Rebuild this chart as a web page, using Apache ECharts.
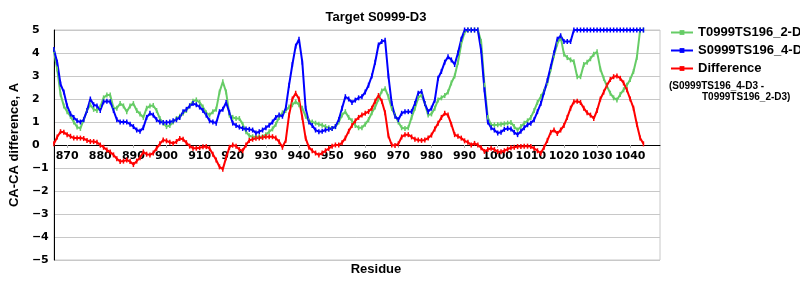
<!DOCTYPE html>
<html>
<head>
<meta charset="utf-8">
<script src="https://cdn.jsdelivr.net/npm/echarts@6/dist/echarts.min.js"></script>
<style>html,body{margin:0;padding:0;background:#fff}#c{width:800px;height:300px}</style>
</head>
<body>
<div id="c"></div>
<script>
// Residue axis: 866 .. 1049 (data spans 866 .. 1044)
const firstResidue = 866;
const lastResidue = 1049;
const residues = [];
for (let r = firstResidue; r <= lastResidue; r++) residues.push(String(r));

const yTicks = [-5, -4, -3, -2, -1, 0, 1, 2, 3, 4, 5];

// T0999TS196_2-D3 (green), residues 866..1044
const seriesT = [
  4.1,3.3,2.2,1.7,1.45,1.25,1.0,0.78,0.72,1.1,
  1.5,1.75,1.55,1.5,1.65,2.05,2.17,2.17,1.6,1.6,
  1.8,1.7,1.45,1.7,1.8,1.5,1.35,1.2,1.6,1.7,
  1.72,1.5,1.15,0.95,0.8,0.85,1.0,1.15,1.25,1.38,
  1.5,1.7,1.9,1.96,1.85,1.65,1.4,1.3,1.45,1.55,
  2.3,2.75,2.3,1.3,1.2,1.15,1.15,0.9,0.58,0.4,
  0.36,0.36,0.36,0.36,0.45,0.58,0.7,0.9,1.2,1.4,
  1.5,1.65,1.75,1.88,1.75,1.6,1.25,1.05,1.0,0.95,
  0.9,0.86,0.8,0.75,0.72,0.8,1.0,1.3,1.45,1.2,
  1.05,0.85,0.75,0.75,0.9,1.1,1.4,1.65,2.0,2.35,
  2.45,2.1,1.6,1.3,1.0,0.75,0.72,0.75,1.2,1.6,
  2.05,2.17,1.8,1.3,1.35,1.6,1.96,2.05,2.15,2.3,
  2.7,3.0,3.6,4.4,4.9,5,5,5,5,4.5,
  2.6,1.2,0.87,0.87,0.88,0.9,0.92,0.95,0.98,0.8,
  0.65,0.8,0.95,1.05,1.2,1.5,1.85,2.1,2.35,2.7,
  3.3,3.9,4.4,4.7,3.95,3.8,3.7,3.62,2.97,2.97,
  3.5,3.6,3.75,3.95,4.05,3.3,2.9,2.55,2.25,2.05,
  1.96,2.2,2.4,2.6,2.85,3.2,3.8,5,5
];

// S0999TS196_4-D3 (blue)
const seriesS = [
  4.15,3.6,2.65,2.3,1.7,1.35,1.2,1.05,1.0,1.1,
  1.5,2.0,1.75,1.7,1.5,1.88,1.9,1.88,1.5,1.1,
  1.0,1.0,1.0,0.9,0.8,0.65,0.6,0.75,1.2,1.38,
  1.3,1.1,1.0,0.98,0.98,1.0,1.05,1.1,1.2,1.45,
  1.55,1.7,1.8,1.75,1.65,1.5,1.3,1.05,1.0,0.95,
  1.45,1.55,1.85,1.4,0.95,0.85,0.78,0.72,0.7,0.68,
  0.65,0.52,0.58,0.65,0.75,0.86,1.0,1.2,1.3,1.25,
  1.6,2.6,3.5,4.3,4.6,3.6,1.6,1.0,0.85,0.65,
  0.58,0.6,0.65,0.68,0.72,0.8,1.1,1.6,2.1,2.0,
  1.85,1.95,2.05,2.1,2.3,2.6,3.0,3.6,4.35,4.5,
  4.55,3.0,1.8,1.25,1.1,1.38,1.45,1.45,1.45,1.8,
  2.25,2.32,1.8,1.45,1.6,1.95,2.9,3.2,3.6,3.84,
  3.7,3.5,4.0,4.6,5,5,5,5,5,4.1,
  2.4,1.0,0.75,0.65,0.52,0.55,0.68,0.72,0.7,0.55,
  0.45,0.6,0.75,0.88,0.95,1.1,1.45,1.8,2.3,2.8,
  3.4,4.0,4.6,4.75,4.5,4.5,4.5,5,5,5,
  5,5,5,5,5,5,5,5,5,5,
  5,5,5,5,5,5,5,5,5
];

// Difference (red)
const seriesDiff = [
  0.05,0.35,0.58,0.55,0.45,0.38,0.3,0.3,0.3,0.28,
  0.2,0.15,0.15,0.12,0.0,-0.1,-0.22,-0.3,-0.43,-0.6,
  -0.72,-0.7,-0.65,-0.72,-0.85,-0.7,-0.55,-0.3,-0.4,-0.43,
  -0.35,-0.15,0.05,0.22,0.18,0.12,0.07,0.15,0.28,0.25,
  0.1,-0.05,-0.14,-0.14,-0.12,-0.08,-0.07,-0.15,-0.4,-0.65,
  -0.95,-1.05,-0.55,-0.1,0.0,-0.05,-0.2,-0.25,0.0,0.2,
  0.25,0.29,0.3,0.33,0.36,0.36,0.36,0.3,0.14,-0.1,
  0.2,1.3,2.0,2.25,2.0,1.2,0.3,-0.1,-0.25,-0.35,
  -0.43,-0.35,-0.25,-0.15,-0.05,0.0,0.0,0.1,0.3,0.6,
  0.85,1.05,1.2,1.3,1.38,1.45,1.6,1.9,2.15,1.9,
  1.4,0.4,0.0,-0.02,0.05,0.35,0.45,0.45,0.35,0.25,
  0.22,0.2,0.22,0.3,0.43,0.7,0.95,1.2,1.38,1.3,
  0.9,0.45,0.38,0.3,0.18,0.12,0.0,0.07,0.0,-0.12,
  -0.28,-0.2,-0.14,-0.2,-0.29,-0.29,-0.25,-0.18,-0.12,-0.1,
  -0.07,-0.07,-0.05,-0.05,-0.07,-0.15,-0.25,-0.36,-0.1,0.2,
  0.55,0.65,0.5,0.65,0.85,1.2,1.6,1.88,1.9,1.85,
  1.6,1.4,1.3,1.15,1.5,2.0,2.3,2.6,2.85,2.97,
  3.0,2.9,2.7,2.4,2.0,1.6,0.9,0.3,0.05
];

const seriesNames = ['T0999TS196_2-D3', 'S0999TS196_4-D3', 'Difference'];
const titleText = 'Target S0999-D3';
const xName = 'Residue';
const yName = 'CA-CA difference, A';
const diffNote = ['(S0999TS196_4-D3 -', 'T0999TS196_2-D3)'];

const colors = ['#66cc66', '#0000ff', '#ff0000'];
const nameFont = 'Liberation Sans, Arial, sans-serif';
const tickFont = 'DejaVu Sans, Verdana, sans-serif';

// grid geometry
const gridTop = 30, gridHeight = 230;
const yMin = yTicks[0], yMax = yTicks[yTicks.length - 1];
// move the category axis up to value 0
const zeroOffset = -gridHeight * (0 - yMin) / (yMax - yMin);

function mkSeries(name, data, color) {
  return {
    name: name, type: 'line', data: data,
    symbol: 'rect', symbolSize: [1.5, 5], showSymbol: true, showAllSymbol: true,
    lineStyle: { color: color, width: 2 },
    itemStyle: { color: color },
    emphasis: { disabled: true },
    animation: false
  };
}

const chart = echarts.init(document.getElementById('c'), null, { renderer: 'canvas' });
chart.setOption({
  backgroundColor: '#ffffff',
  animation: false,
  title: {
    text: titleText, left: 371, top: 6, textAlign: 'center',
    textStyle: { fontFamily: nameFont, fontWeight: 'bold', fontSize: 13, color: '#000' }
  },
  grid: { left: 50, top: gridTop, width: 610, height: gridHeight, show: true, borderColor: '#c8c8c8', borderWidth: 1 },
  legend: {
    orient: 'vertical', left: 670, top: 26, padding: 0, itemWidth: 22, itemHeight: 6, itemGap: 5,
    data: seriesNames,
    textStyle: { fontFamily: nameFont, fontWeight: 'bold', fontSize: 13, color: '#000' }
  },
  xAxis: {
    type: 'category', data: residues, boundaryGap: false,
    position: 'bottom', offset: zeroOffset,
    axisLine: { onZero: false, lineStyle: { color: '#000', width: 1 } },
    axisTick: { show: true, length: 3, lineStyle: { color: '#b0b0b0' }, interval: (i, v) => Number(v) % 10 === 0 },
    axisLabel: {
      interval: (i, v) => Number(v) % 10 === 0 && Number(v) < 1050, margin: 6,
      fontFamily: tickFont, fontWeight: 'bold', fontSize: 11, color: '#000'
    },
    splitLine: { show: false }
  },
  yAxis: {
    type: 'value', min: yMin, max: yMax, interval: 1,
    name: yName, nameLocation: 'middle', nameGap: 31, nameRotate: 90,
    nameTextStyle: { fontFamily: nameFont, fontWeight: 'bold', fontSize: 13, color: '#000' },
    axisLine: { show: true, onZero: false, lineStyle: { color: '#000', width: 1 } },
    axisTick: { show: false },
    axisLabel: {
      margin: 22, align: 'left',
      fontFamily: tickFont, fontWeight: 'bold', fontSize: 11, color: '#000',
      formatter: v => (v < 0 ? '\u2212' + Math.abs(v) : String(v))
    },
    splitLine: { show: true, lineStyle: { color: '#c8c8c8', width: 1 } }
  },
  graphic: [
    { type: 'text', x: 376, y: 263, style: { text: xName, fill: '#000', font: 'bold 13px ' + nameFont, textAlign: 'center', textVerticalAlign: 'top' } },
    { type: 'text', x: 669, y: 81, style: { text: diffNote[0], fill: '#000', font: 'bold 10px ' + nameFont, textVerticalAlign: 'top' } },
    { type: 'text', x: 702, y: 92, style: { text: diffNote[1], fill: '#000', font: 'bold 10px ' + nameFont, textVerticalAlign: 'top' } }
  ],
  series: [
    mkSeries(seriesNames[0], seriesT, colors[0]),
    mkSeries(seriesNames[1], seriesS, colors[1]),
    mkSeries(seriesNames[2], seriesDiff, colors[2])
  ]
});
</script>
</body>
</html>
